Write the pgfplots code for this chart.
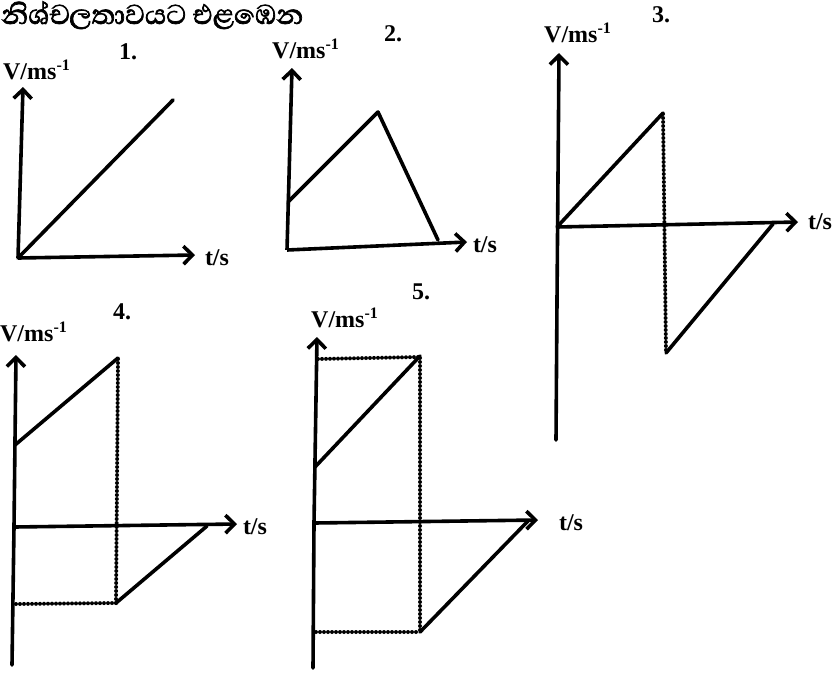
\documentclass[border=0pt]{standalone}
\usepackage{pgfplots}
\pgfplotsset{compat=1.18}
\usepackage{fontspec}
\setmainfont{Liberation Serif}
\newfontfamily\sinhala[Script=Sinhala, FakeBold=2]{Abhaya Libre}
\usetikzlibrary{arrows.meta}
\tikzset{
  ln/.style={black, line width=1.8pt, line join=round, line cap=round},
  ax/.style={black, line width=1.8pt, -{Straight Barb[length=4.5pt,width=9pt]}},
  dt/.style={black, line width=2pt, line cap=round, dash pattern=on 0pt off 2pt},
  lbl/.style={font=\fontsize{12}{13}\selectfont\bfseries, inner sep=0pt}}
\begin{document}
\begin{tikzpicture}
\useasboundingbox (0,0) rectangle (417pt,337.5pt);
\clip (0,0) rectangle (417pt,337.5pt);
\begin{axis}[at={(0,0)}, anchor=south west, scale only axis,
  width=417pt, height=337.5pt, xmin=0, xmax=834, ymin=0, ymax=675,
  y dir=reverse, hide axis, clip=false, no markers]

% header text
\node[anchor=base west, inner sep=0pt, font=\fontsize{17.5}{19}\selectfont\sinhala] at (axis cs:1,24) {නිශ්චලතාවයට එළඹෙන};

% ---- Graph 1 ----
\addplot[ax] coordinates {(18,258) (23,87)};
\addplot[ax] coordinates {(18,258) (195,255)};
\addplot[ln] coordinates {(18,258) (173,100)};
\node[lbl] at (axis cs:128,52) {1.};
\node[lbl] at (axis cs:37,70) {V/ms\textsuperscript{-1}};
\node[lbl] at (axis cs:217,258) {t/s};

% ---- Graph 2 ----
\addplot[ax] coordinates {(287,250) (292,68)};
\addplot[ax] coordinates {(287,250) (467,242)};
\addplot[ln] coordinates {(288,202) (378,112) (438,240)};
\node[lbl] at (axis cs:393,34) {2.};
\node[lbl] at (axis cs:306,49) {V/ms\textsuperscript{-1}};
\node[lbl] at (axis cs:485,245) {t/s};

% ---- Graph 3 ----
\addplot[ln] coordinates {(556,440) (557,300)};
\addplot[ax] coordinates {(557,300) (559,53)};
\addplot[ax] coordinates {(557,227) (798,222)};
\addplot[ln] coordinates {(557,227) (663,113)};
\addplot[dt] coordinates {(663,114) (666,353)};
\addplot[ln] coordinates {(666,353) (773,224)};
\node[lbl] at (axis cs:661,15) {3.};
\node[lbl] at (axis cs:578,33) {V/ms\textsuperscript{-1}};
\node[lbl] at (axis cs:820,222) {t/s};

% ---- Graph 4 ----
\addplot[ln] coordinates {(12,665) (14,527)};
\addplot[ax] coordinates {(14,527) (16,355)};
\addplot[ax] coordinates {(14,527) (237,524)};
\addplot[ln] coordinates {(15,445) (118,358)};
\addplot[dt] coordinates {(118,359) (116,603)};
\addplot[dt] coordinates {(16,604) (116,603)};
\addplot[ln] coordinates {(116,603) (207,526)};
\node[lbl] at (axis cs:122,312) {4.};
\node[lbl] at (axis cs:34,332) {V/ms\textsuperscript{-1}};
\node[lbl] at (axis cs:255,527) {t/s};

% ---- Graph 5 ----
\addplot[ln] coordinates {(313,668) (314,523)};
\addplot[ax] coordinates {(314,523) (317,337)};
\addplot[ax] coordinates {(314,523) (538,520)};
\addplot[dt] coordinates {(318,359) (419,357)};
\addplot[ln] coordinates {(315,467) (420,356)};
\addplot[dt] coordinates {(420,358) (420,632)};
\addplot[dt] coordinates {(316,632) (419,632)};
\addplot[ln] coordinates {(420,632) (528,521)};
\node[lbl] at (axis cs:421,292) {5.};
\node[lbl] at (axis cs:345,318) {V/ms\textsuperscript{-1}};
\node[lbl] at (axis cs:571,523) {t/s};
\end{axis}
\end{tikzpicture}
\end{document}
